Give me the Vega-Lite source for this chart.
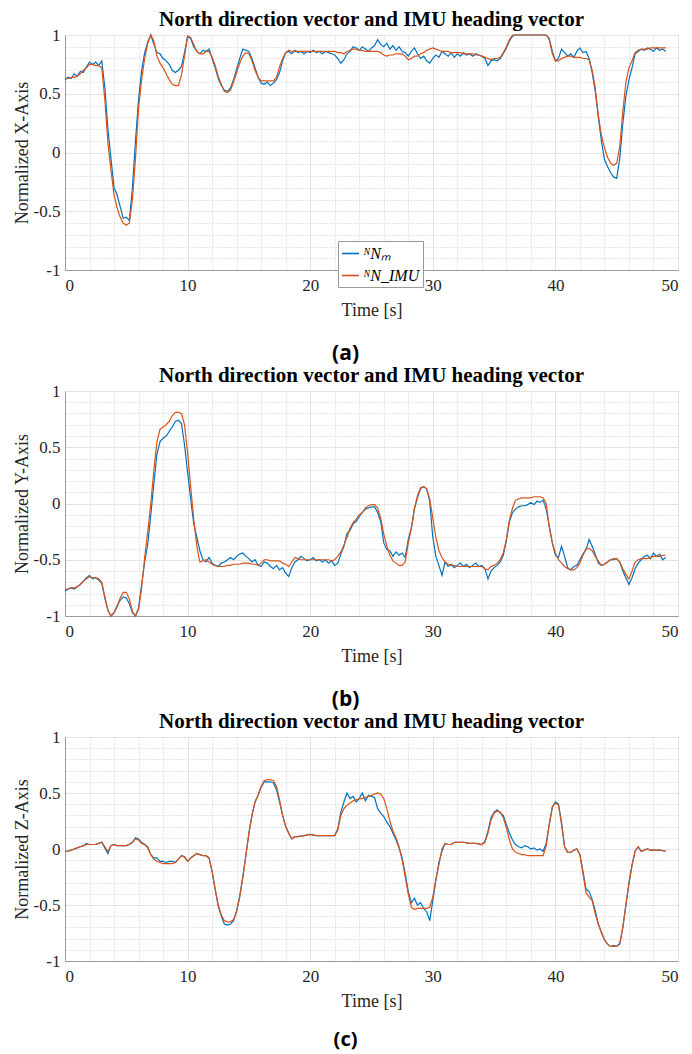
{
"$schema": "https://vega.github.io/schema/vega-lite/v6.json",
"padding": {"left": 12, "top": 8, "right": 0, "bottom": 0},
"spacing": 0,
"config": {
  "view": {"stroke": "#9a9a9a", "strokeWidth": 1},
  "axis": {"labelFont": "Liberation Serif", "labelFontSize": 17, "labelColor": "#262626", "titleFont": "Liberation Serif", "titleFontSize": 18, "titleFontWeight": "normal", "titleColor": "#262626", "domainColor": "#9a9a9a", "gridColor": "#e3e3e3", "ticks": false, "labelPadding": 7},
  "legend": {"labelFont": "Liberation Serif", "labelFontStyle": "italic", "labelFontSize": 16, "labelColor": "#000", "symbolType": "stroke", "symbolStrokeWidth": 1.6, "symbolSize": 289, "strokeColor": "#9a9a9a", "fillColor": "white", "padding": 3, "rowPadding": 4, "labelOffset": 3, "title": null, "orient": "none"},
  "title": {"anchor": "middle"}
},
"datasets": {
"x": [
{"t":0,"m":0.62,"i":0.63},{"t":0.25,"m":0.64,"i":0.63},{"t":0.5,"m":0.63,"i":0.64},{"t":0.75,"m":0.67,"i":0.64},{"t":1,"m":0.65,"i":0.65},{"t":1.25,"m":0.69,"i":0.67},{"t":1.5,"m":0.68,"i":0.7},{"t":1.75,"m":0.73,"i":0.72},{"t":2,"m":0.77,"i":0.75},{"t":2.25,"m":0.75,"i":0.75},{"t":2.5,"m":0.77,"i":0.74},{"t":2.75,"m":0.74,"i":0.74},{"t":3,"m":0.78,"i":0.72},{"t":3.25,"m":0.55,"i":0.45},{"t":3.5,"m":0.2,"i":0.08},{"t":3.75,"m":-0.05,"i":-0.15},{"t":4,"m":-0.3,"i":-0.36},{"t":4.25,"m":-0.36,"i":-0.47},{"t":4.5,"m":-0.46,"i":-0.55},{"t":4.75,"m":-0.56,"i":-0.6},{"t":5,"m":-0.55,"i":-0.62},{"t":5.25,"m":-0.58,"i":-0.6},{"t":5.5,"m":-0.3,"i":-0.4},{"t":5.75,"m":0.1,"i":-0.05},{"t":6,"m":0.45,"i":0.38},{"t":6.25,"m":0.7,"i":0.62},{"t":6.5,"m":0.85,"i":0.8},{"t":6.75,"m":0.94,"i":0.93},{"t":7,"m":1,"i":1},{"t":7.25,"m":0.92,"i":0.95},{"t":7.5,"m":0.85,"i":0.82},{"t":7.75,"m":0.84,"i":0.76},{"t":8,"m":0.8,"i":0.72},{"t":8.25,"m":0.78,"i":0.67},{"t":8.5,"m":0.75,"i":0.62},{"t":8.75,"m":0.7,"i":0.58},{"t":9,"m":0.68,"i":0.57},{"t":9.25,"m":0.7,"i":0.57},{"t":9.5,"m":0.73,"i":0.66},{"t":9.75,"m":0.85,"i":0.82},{"t":10,"m":0.99,"i":0.99},{"t":10.25,"m":0.97,"i":0.98},{"t":10.5,"m":0.9,"i":0.92},{"t":10.75,"m":0.86,"i":0.86},{"t":11,"m":0.84,"i":0.84},{"t":11.25,"m":0.87,"i":0.84},{"t":11.5,"m":0.86,"i":0.86},{"t":11.75,"m":0.88,"i":0.86},{"t":12,"m":0.8,"i":0.81},{"t":12.25,"m":0.72,"i":0.74},{"t":12.5,"m":0.63,"i":0.65},{"t":12.75,"m":0.57,"i":0.58},{"t":13,"m":0.53,"i":0.52},{"t":13.25,"m":0.52,"i":0.51},{"t":13.5,"m":0.55,"i":0.53},{"t":13.75,"m":0.62,"i":0.6},{"t":14,"m":0.71,"i":0.68},{"t":14.25,"m":0.8,"i":0.76},{"t":14.5,"m":0.88,"i":0.82},{"t":14.75,"m":0.87,"i":0.85},{"t":15,"m":0.86,"i":0.84},{"t":15.25,"m":0.8,"i":0.78},{"t":15.5,"m":0.72,"i":0.7},{"t":15.75,"m":0.64,"i":0.64},{"t":16,"m":0.59,"i":0.61},{"t":16.25,"m":0.58,"i":0.61},{"t":16.5,"m":0.6,"i":0.61},{"t":16.75,"m":0.57,"i":0.61},{"t":17,"m":0.59,"i":0.61},{"t":17.25,"m":0.62,"i":0.64},{"t":17.5,"m":0.68,"i":0.73},{"t":17.75,"m":0.78,"i":0.8},{"t":18,"m":0.85,"i":0.85},{"t":18.25,"m":0.86,"i":0.87},{"t":18.5,"m":0.84,"i":0.86},{"t":18.75,"m":0.87,"i":0.86},{"t":19,"m":0.85,"i":0.86},{"t":19.25,"m":0.86,"i":0.86},{"t":19.5,"m":0.84,"i":0.86},{"t":19.75,"m":0.86,"i":0.86},{"t":20,"m":0.85,"i":0.86},{"t":20.25,"m":0.87,"i":0.86},{"t":20.5,"m":0.85,"i":0.86},{"t":20.75,"m":0.86,"i":0.86},{"t":21,"m":0.84,"i":0.86},{"t":21.25,"m":0.86,"i":0.86},{"t":21.5,"m":0.85,"i":0.86},{"t":21.75,"m":0.84,"i":0.86},{"t":22,"m":0.83,"i":0.86},{"t":22.25,"m":0.8,"i":0.85},{"t":22.5,"m":0.76,"i":0.85},{"t":22.75,"m":0.79,"i":0.84},{"t":23,"m":0.84,"i":0.86},{"t":23.25,"m":0.86,"i":0.87},{"t":23.5,"m":0.9,"i":0.88},{"t":23.75,"m":0.89,"i":0.88},{"t":24,"m":0.87,"i":0.87},{"t":24.25,"m":0.9,"i":0.87},{"t":24.5,"m":0.88,"i":0.86},{"t":24.75,"m":0.86,"i":0.86},{"t":25,"m":0.89,"i":0.86},{"t":25.25,"m":0.91,"i":0.86},{"t":25.5,"m":0.96,"i":0.86},{"t":25.75,"m":0.92,"i":0.85},{"t":26,"m":0.9,"i":0.83},{"t":26.25,"m":0.93,"i":0.82},{"t":26.5,"m":0.88,"i":0.83},{"t":26.75,"m":0.91,"i":0.83},{"t":27,"m":0.87,"i":0.84},{"t":27.25,"m":0.9,"i":0.84},{"t":27.5,"m":0.86,"i":0.84},{"t":27.75,"m":0.85,"i":0.82},{"t":28,"m":0.82,"i":0.79},{"t":28.25,"m":0.86,"i":0.8},{"t":28.5,"m":0.89,"i":0.82},{"t":28.75,"m":0.84,"i":0.82},{"t":29,"m":0.8,"i":0.84},{"t":29.25,"m":0.82,"i":0.85},{"t":29.5,"m":0.78,"i":0.87},{"t":29.75,"m":0.76,"i":0.88},{"t":30,"m":0.8,"i":0.89},{"t":30.25,"m":0.83,"i":0.88},{"t":30.5,"m":0.81,"i":0.87},{"t":30.75,"m":0.86,"i":0.86},{"t":31,"m":0.84,"i":0.86},{"t":31.25,"m":0.82,"i":0.86},{"t":31.5,"m":0.85,"i":0.85},{"t":31.75,"m":0.81,"i":0.85},{"t":32,"m":0.84,"i":0.85},{"t":32.25,"m":0.82,"i":0.85},{"t":32.5,"m":0.85,"i":0.84},{"t":32.75,"m":0.83,"i":0.84},{"t":33,"m":0.84,"i":0.84},{"t":33.25,"m":0.82,"i":0.84},{"t":33.5,"m":0.84,"i":0.83},{"t":33.75,"m":0.83,"i":0.83},{"t":34,"m":0.82,"i":0.82},{"t":34.25,"m":0.8,"i":0.81},{"t":34.5,"m":0.74,"i":0.8},{"t":34.75,"m":0.78,"i":0.79},{"t":35,"m":0.79,"i":0.8},{"t":35.25,"m":0.78,"i":0.8},{"t":35.5,"m":0.8,"i":0.81},{"t":35.75,"m":0.84,"i":0.85},{"t":36,"m":0.89,"i":0.9},{"t":36.25,"m":0.95,"i":0.96},{"t":36.5,"m":0.99,"i":1},{"t":36.75,"m":1,"i":1},{"t":37,"m":1,"i":1},{"t":37.5,"m":1,"i":1},{"t":38,"m":1,"i":1},{"t":38.5,"m":1,"i":1},{"t":39,"m":1,"i":1},{"t":39.25,"m":1,"i":1},{"t":39.5,"m":0.97,"i":0.96},{"t":39.75,"m":0.86,"i":0.84},{"t":40,"m":0.78,"i":0.78},{"t":40.25,"m":0.8,"i":0.78},{"t":40.5,"m":0.88,"i":0.8},{"t":40.75,"m":0.85,"i":0.81},{"t":41,"m":0.82,"i":0.82},{"t":41.25,"m":0.84,"i":0.82},{"t":41.5,"m":0.81,"i":0.81},{"t":41.75,"m":0.86,"i":0.81},{"t":42,"m":0.89,"i":0.81},{"t":42.25,"m":0.85,"i":0.8},{"t":42.5,"m":0.86,"i":0.8},{"t":42.75,"m":0.8,"i":0.79},{"t":43,"m":0.68,"i":0.7},{"t":43.25,"m":0.52,"i":0.55},{"t":43.5,"m":0.3,"i":0.32},{"t":43.75,"m":0.1,"i":0.15},{"t":44,"m":-0.06,"i":0.04},{"t":44.25,"m":-0.12,"i":-0.04},{"t":44.5,"m":-0.17,"i":-0.09},{"t":44.75,"m":-0.21,"i":-0.11},{"t":45,"m":-0.22,"i":-0.09},{"t":45.25,"m":-0.05,"i":0.05},{"t":45.5,"m":0.25,"i":0.35},{"t":45.75,"m":0.48,"i":0.6},{"t":46,"m":0.62,"i":0.72},{"t":46.25,"m":0.72,"i":0.78},{"t":46.5,"m":0.84,"i":0.85},{"t":46.75,"m":0.86,"i":0.87},{"t":47,"m":0.88,"i":0.88},{"t":47.25,"m":0.87,"i":0.88},{"t":47.5,"m":0.89,"i":0.88},{"t":47.75,"m":0.88,"i":0.89},{"t":48,"m":0.86,"i":0.89},{"t":48.25,"m":0.89,"i":0.89},{"t":48.5,"m":0.87,"i":0.89},{"t":48.75,"m":0.88,"i":0.89},{"t":49,"m":0.86,"i":0.89}
],
"y": [
{"t":0,"m":-0.78,"i":-0.76},{"t":0.25,"m":-0.76,"i":-0.76},{"t":0.5,"m":-0.75,"i":-0.75},{"t":0.75,"m":-0.76,"i":-0.75},{"t":1,"m":-0.74,"i":-0.74},{"t":1.25,"m":-0.72,"i":-0.72},{"t":1.5,"m":-0.69,"i":-0.69},{"t":1.75,"m":-0.66,"i":-0.67},{"t":2,"m":-0.64,"i":-0.65},{"t":2.25,"m":-0.67,"i":-0.66},{"t":2.5,"m":-0.66,"i":-0.66},{"t":2.75,"m":-0.68,"i":-0.67},{"t":3,"m":-0.71,"i":-0.7},{"t":3.25,"m":-0.84,"i":-0.83},{"t":3.5,"m":-0.95,"i":-0.95},{"t":3.75,"m":-1,"i":-1},{"t":4,"m":-0.97,"i":-0.97},{"t":4.25,"m":-0.91,"i":-0.92},{"t":4.5,"m":-0.86,"i":-0.84},{"t":4.75,"m":-0.83,"i":-0.79},{"t":5,"m":-0.84,"i":-0.79},{"t":5.25,"m":-0.89,"i":-0.85},{"t":5.5,"m":-0.97,"i":-0.96},{"t":5.75,"m":-1,"i":-1},{"t":6,"m":-0.93,"i":-0.94},{"t":6.25,"m":-0.72,"i":-0.75},{"t":6.5,"m":-0.52,"i":-0.48},{"t":6.75,"m":-0.36,"i":-0.25},{"t":7,"m":-0.1,"i":0},{"t":7.25,"m":0.18,"i":0.3},{"t":7.5,"m":0.44,"i":0.55},{"t":7.75,"m":0.55,"i":0.66},{"t":8,"m":0.58,"i":0.68},{"t":8.25,"m":0.6,"i":0.7},{"t":8.5,"m":0.64,"i":0.73},{"t":8.75,"m":0.68,"i":0.78},{"t":9,"m":0.73,"i":0.81},{"t":9.25,"m":0.74,"i":0.81},{"t":9.5,"m":0.71,"i":0.8},{"t":9.75,"m":0.52,"i":0.7},{"t":10,"m":0.28,"i":0.45},{"t":10.25,"m":0.04,"i":0.15},{"t":10.5,"m":-0.18,"i":-0.14},{"t":10.75,"m":-0.3,"i":-0.38},{"t":11,"m":-0.42,"i":-0.52},{"t":11.25,"m":-0.5,"i":-0.51},{"t":11.5,"m":-0.52,"i":-0.5},{"t":11.75,"m":-0.48,"i":-0.52},{"t":12,"m":-0.53,"i":-0.54},{"t":12.25,"m":-0.55,"i":-0.55},{"t":12.5,"m":-0.56,"i":-0.56},{"t":12.75,"m":-0.53,"i":-0.56},{"t":13,"m":-0.52,"i":-0.56},{"t":13.25,"m":-0.5,"i":-0.55},{"t":13.5,"m":-0.48,"i":-0.55},{"t":13.75,"m":-0.5,"i":-0.54},{"t":14,"m":-0.47,"i":-0.54},{"t":14.25,"m":-0.45,"i":-0.54},{"t":14.5,"m":-0.44,"i":-0.53},{"t":14.75,"m":-0.47,"i":-0.53},{"t":15,"m":-0.49,"i":-0.53},{"t":15.25,"m":-0.52,"i":-0.54},{"t":15.5,"m":-0.5,"i":-0.54},{"t":15.75,"m":-0.55,"i":-0.55},{"t":16,"m":-0.56,"i":-0.53},{"t":16.25,"m":-0.52,"i":-0.5},{"t":16.5,"m":-0.53,"i":-0.5},{"t":16.75,"m":-0.56,"i":-0.51},{"t":17,"m":-0.58,"i":-0.51},{"t":17.25,"m":-0.55,"i":-0.51},{"t":17.5,"m":-0.59,"i":-0.51},{"t":17.75,"m":-0.57,"i":-0.53},{"t":18,"m":-0.62,"i":-0.54},{"t":18.25,"m":-0.65,"i":-0.56},{"t":18.5,"m":-0.57,"i":-0.52},{"t":18.75,"m":-0.52,"i":-0.48},{"t":19,"m":-0.5,"i":-0.49},{"t":19.25,"m":-0.47,"i":-0.5},{"t":19.5,"m":-0.49,"i":-0.5},{"t":19.75,"m":-0.51,"i":-0.5},{"t":20,"m":-0.5,"i":-0.5},{"t":20.25,"m":-0.48,"i":-0.5},{"t":20.5,"m":-0.51,"i":-0.5},{"t":20.75,"m":-0.5,"i":-0.5},{"t":21,"m":-0.52,"i":-0.5},{"t":21.25,"m":-0.5,"i":-0.5},{"t":21.5,"m":-0.53,"i":-0.5},{"t":21.75,"m":-0.51,"i":-0.51},{"t":22,"m":-0.55,"i":-0.5},{"t":22.25,"m":-0.53,"i":-0.47},{"t":22.5,"m":-0.45,"i":-0.43},{"t":22.75,"m":-0.38,"i":-0.37},{"t":23,"m":-0.27,"i":-0.3},{"t":23.25,"m":-0.24,"i":-0.22},{"t":23.5,"m":-0.18,"i":-0.17},{"t":23.75,"m":-0.16,"i":-0.14},{"t":24,"m":-0.12,"i":-0.1},{"t":24.25,"m":-0.08,"i":-0.08},{"t":24.5,"m":-0.05,"i":-0.04},{"t":24.75,"m":-0.04,"i":-0.02},{"t":25,"m":-0.03,"i":-0.01},{"t":25.25,"m":-0.03,"i":-0.01},{"t":25.5,"m":-0.08,"i":-0.04},{"t":25.75,"m":-0.16,"i":-0.13},{"t":26,"m":-0.35,"i":-0.27},{"t":26.25,"m":-0.41,"i":-0.38},{"t":26.5,"m":-0.42,"i":-0.46},{"t":26.75,"m":-0.47,"i":-0.51},{"t":27,"m":-0.43,"i":-0.53},{"t":27.25,"m":-0.46,"i":-0.55},{"t":27.5,"m":-0.44,"i":-0.55},{"t":27.75,"m":-0.48,"i":-0.52},{"t":28,"m":-0.32,"i":-0.35},{"t":28.25,"m":-0.22,"i":-0.22},{"t":28.5,"m":-0.05,"i":-0.04},{"t":28.75,"m":0.05,"i":0.07},{"t":29,"m":0.13,"i":0.14},{"t":29.25,"m":0.15,"i":0.15},{"t":29.5,"m":0.13,"i":0.13},{"t":29.75,"m":0.02,"i":0.04},{"t":30,"m":-0.3,"i":-0.13},{"t":30.25,"m":-0.47,"i":-0.3},{"t":30.5,"m":-0.55,"i":-0.42},{"t":30.75,"m":-0.64,"i":-0.48},{"t":31,"m":-0.52,"i":-0.52},{"t":31.25,"m":-0.56,"i":-0.54},{"t":31.5,"m":-0.54,"i":-0.55},{"t":31.75,"m":-0.57,"i":-0.55},{"t":32,"m":-0.55,"i":-0.56},{"t":32.25,"m":-0.53,"i":-0.56},{"t":32.5,"m":-0.56,"i":-0.56},{"t":32.75,"m":-0.54,"i":-0.56},{"t":33,"m":-0.57,"i":-0.56},{"t":33.25,"m":-0.55,"i":-0.56},{"t":33.5,"m":-0.53,"i":-0.56},{"t":33.75,"m":-0.56,"i":-0.56},{"t":34,"m":-0.55,"i":-0.56},{"t":34.25,"m":-0.58,"i":-0.58},{"t":34.5,"m":-0.67,"i":-0.59},{"t":34.75,"m":-0.6,"i":-0.56},{"t":35,"m":-0.57,"i":-0.55},{"t":35.25,"m":-0.55,"i":-0.53},{"t":35.5,"m":-0.52,"i":-0.5},{"t":35.75,"m":-0.46,"i":-0.44},{"t":36,"m":-0.33,"i":-0.32},{"t":36.25,"m":-0.16,"i":-0.15},{"t":36.5,"m":-0.08,"i":-0.04},{"t":36.75,"m":-0.05,"i":0.03},{"t":37,"m":-0.03,"i":0.04},{"t":37.25,"m":-0.02,"i":0.05},{"t":37.5,"m":-0.02,"i":0.05},{"t":37.75,"m":-0.01,"i":0.05},{"t":38,"m":0.01,"i":0.05},{"t":38.25,"m":-0.01,"i":0.06},{"t":38.5,"m":0.02,"i":0.06},{"t":38.75,"m":0.01,"i":0.06},{"t":39,"m":0.03,"i":0.05},{"t":39.25,"m":-0.05,"i":0},{"t":39.5,"m":-0.2,"i":-0.21},{"t":39.75,"m":-0.35,"i":-0.35},{"t":40,"m":-0.46,"i":-0.44},{"t":40.25,"m":-0.48,"i":-0.5},{"t":40.5,"m":-0.38,"i":-0.53},{"t":40.75,"m":-0.47,"i":-0.56},{"t":41,"m":-0.57,"i":-0.58},{"t":41.25,"m":-0.59,"i":-0.59},{"t":41.5,"m":-0.56,"i":-0.59},{"t":41.75,"m":-0.55,"i":-0.57},{"t":42,"m":-0.5,"i":-0.53},{"t":42.25,"m":-0.45,"i":-0.46},{"t":42.5,"m":-0.41,"i":-0.4},{"t":42.75,"m":-0.32,"i":-0.4},{"t":43,"m":-0.38,"i":-0.42},{"t":43.25,"m":-0.45,"i":-0.47},{"t":43.5,"m":-0.53,"i":-0.51},{"t":43.75,"m":-0.55,"i":-0.55},{"t":44,"m":-0.54,"i":-0.54},{"t":44.25,"m":-0.52,"i":-0.52},{"t":44.5,"m":-0.5,"i":-0.5},{"t":44.75,"m":-0.5,"i":-0.49},{"t":45,"m":-0.49,"i":-0.49},{"t":45.25,"m":-0.52,"i":-0.52},{"t":45.5,"m":-0.6,"i":-0.58},{"t":45.75,"m":-0.66,"i":-0.63},{"t":46,"m":-0.72,"i":-0.67},{"t":46.25,"m":-0.66,"i":-0.6},{"t":46.5,"m":-0.58,"i":-0.52},{"t":46.75,"m":-0.53,"i":-0.5},{"t":47,"m":-0.5,"i":-0.49},{"t":47.25,"m":-0.47,"i":-0.49},{"t":47.5,"m":-0.46,"i":-0.49},{"t":47.75,"m":-0.49,"i":-0.48},{"t":48,"m":-0.44,"i":-0.47},{"t":48.25,"m":-0.47,"i":-0.47},{"t":48.5,"m":-0.45,"i":-0.47},{"t":48.75,"m":-0.5,"i":-0.46},{"t":49,"m":-0.48,"i":-0.46}
],
"z": [
{"t":0,"m":-0.02,"i":-0.02},{"t":0.25,"m":-0.02,"i":-0.02},{"t":0.5,"m":-0.01,"i":-0.01},{"t":0.75,"m":0,"i":0},{"t":1,"m":0.01,"i":0.01},{"t":1.25,"m":0.02,"i":0.02},{"t":1.5,"m":0.03,"i":0.03},{"t":1.75,"m":0.05,"i":0.04},{"t":2,"m":0.04,"i":0.04},{"t":2.25,"m":0.04,"i":0.04},{"t":2.5,"m":0.04,"i":0.04},{"t":2.75,"m":0.05,"i":0.05},{"t":3,"m":0.06,"i":0.06},{"t":3.25,"m":0.01,"i":0.02},{"t":3.5,"m":-0.04,"i":-0.02},{"t":3.75,"m":0.03,"i":0.03},{"t":4,"m":0.04,"i":0.04},{"t":4.25,"m":0.03,"i":0.03},{"t":4.5,"m":0.03,"i":0.03},{"t":4.75,"m":0.03,"i":0.03},{"t":5,"m":0.03,"i":0.03},{"t":5.25,"m":0.04,"i":0.04},{"t":5.5,"m":0.06,"i":0.06},{"t":5.75,"m":0.1,"i":0.09},{"t":6,"m":0.09,"i":0.08},{"t":6.25,"m":0.06,"i":0.05},{"t":6.5,"m":0.04,"i":0.04},{"t":6.75,"m":0.02,"i":0.01},{"t":7,"m":-0.05,"i":-0.05},{"t":7.25,"m":-0.08,"i":-0.09},{"t":7.5,"m":-0.08,"i":-0.11},{"t":7.75,"m":-0.11,"i":-0.12},{"t":8,"m":-0.11,"i":-0.13},{"t":8.25,"m":-0.12,"i":-0.13},{"t":8.5,"m":-0.11,"i":-0.13},{"t":8.75,"m":-0.11,"i":-0.13},{"t":9,"m":-0.12,"i":-0.12},{"t":9.25,"m":-0.09,"i":-0.09},{"t":9.5,"m":-0.06,"i":-0.06},{"t":9.75,"m":-0.07,"i":-0.07},{"t":10,"m":-0.11,"i":-0.11},{"t":10.25,"m":-0.08,"i":-0.08},{"t":10.5,"m":-0.06,"i":-0.06},{"t":10.75,"m":-0.04,"i":-0.04},{"t":11,"m":-0.05,"i":-0.05},{"t":11.25,"m":-0.06,"i":-0.06},{"t":11.5,"m":-0.06,"i":-0.06},{"t":11.75,"m":-0.08,"i":-0.08},{"t":12,"m":-0.2,"i":-0.2},{"t":12.25,"m":-0.36,"i":-0.36},{"t":12.5,"m":-0.51,"i":-0.5},{"t":12.75,"m":-0.6,"i":-0.59},{"t":13,"m":-0.67,"i":-0.64},{"t":13.25,"m":-0.68,"i":-0.65},{"t":13.5,"m":-0.67,"i":-0.65},{"t":13.75,"m":-0.64,"i":-0.63},{"t":14,"m":-0.55,"i":-0.56},{"t":14.25,"m":-0.42,"i":-0.43},{"t":14.5,"m":-0.25,"i":-0.26},{"t":14.75,"m":-0.06,"i":-0.06},{"t":15,"m":0.14,"i":0.14},{"t":15.25,"m":0.3,"i":0.3},{"t":15.5,"m":0.42,"i":0.42},{"t":15.75,"m":0.48,"i":0.48},{"t":16,"m":0.55,"i":0.56},{"t":16.25,"m":0.6,"i":0.61},{"t":16.5,"m":0.6,"i":0.62},{"t":16.75,"m":0.6,"i":0.62},{"t":17,"m":0.59,"i":0.61},{"t":17.25,"m":0.53,"i":0.56},{"t":17.5,"m":0.42,"i":0.44},{"t":17.75,"m":0.3,"i":0.3},{"t":18,"m":0.2,"i":0.2},{"t":18.25,"m":0.14,"i":0.14},{"t":18.5,"m":0.09,"i":0.09},{"t":18.75,"m":0.11,"i":0.11},{"t":19,"m":0.11,"i":0.11},{"t":19.5,"m":0.12,"i":0.12},{"t":20,"m":0.13,"i":0.13},{"t":20.5,"m":0.12,"i":0.12},{"t":21,"m":0.12,"i":0.12},{"t":21.5,"m":0.12,"i":0.12},{"t":22,"m":0.12,"i":0.12},{"t":22.25,"m":0.18,"i":0.17},{"t":22.5,"m":0.33,"i":0.3},{"t":22.75,"m":0.42,"i":0.36},{"t":23,"m":0.5,"i":0.39},{"t":23.25,"m":0.45,"i":0.41},{"t":23.5,"m":0.47,"i":0.43},{"t":23.75,"m":0.42,"i":0.44},{"t":24,"m":0.45,"i":0.45},{"t":24.25,"m":0.5,"i":0.45},{"t":24.5,"m":0.43,"i":0.46},{"t":24.75,"m":0.48,"i":0.47},{"t":25,"m":0.47,"i":0.48},{"t":25.25,"m":0.46,"i":0.49},{"t":25.5,"m":0.36,"i":0.5},{"t":25.75,"m":0.32,"i":0.49},{"t":26,"m":0.29,"i":0.45},{"t":26.25,"m":0.24,"i":0.36},{"t":26.5,"m":0.2,"i":0.25},{"t":26.75,"m":0.14,"i":0.16},{"t":27,"m":0.08,"i":0.1},{"t":27.25,"m":0.01,"i":0.02},{"t":27.5,"m":-0.08,"i":-0.1},{"t":27.75,"m":-0.22,"i":-0.25},{"t":28,"m":-0.38,"i":-0.4},{"t":28.25,"m":-0.48,"i":-0.52},{"t":28.5,"m":-0.44,"i":-0.54},{"t":28.75,"m":-0.5,"i":-0.53},{"t":29,"m":-0.48,"i":-0.53},{"t":29.25,"m":-0.53,"i":-0.53},{"t":29.5,"m":-0.56,"i":-0.53},{"t":29.75,"m":-0.64,"i":-0.52},{"t":30,"m":-0.46,"i":-0.43},{"t":30.25,"m":-0.28,"i":-0.27},{"t":30.5,"m":-0.12,"i":-0.14},{"t":30.75,"m":-0.02,"i":0},{"t":31,"m":0.05,"i":0.05},{"t":31.25,"m":0.04,"i":0.04},{"t":31.5,"m":0.04,"i":0.04},{"t":31.75,"m":0.06,"i":0.06},{"t":32,"m":0.06,"i":0.06},{"t":32.5,"m":0.06,"i":0.06},{"t":33,"m":0.05,"i":0.05},{"t":33.5,"m":0.05,"i":0.05},{"t":34,"m":0.04,"i":0.04},{"t":34.25,"m":0.07,"i":0.06},{"t":34.5,"m":0.16,"i":0.14},{"t":34.75,"m":0.28,"i":0.26},{"t":35,"m":0.33,"i":0.32},{"t":35.25,"m":0.35,"i":0.34},{"t":35.5,"m":0.32,"i":0.33},{"t":35.75,"m":0.3,"i":0.28},{"t":36,"m":0.22,"i":0.19},{"t":36.25,"m":0.14,"i":0.08},{"t":36.5,"m":0.08,"i":0},{"t":36.75,"m":0.04,"i":-0.03},{"t":37,"m":0.02,"i":-0.04},{"t":37.25,"m":0.01,"i":-0.05},{"t":37.5,"m":0.03,"i":-0.05},{"t":37.75,"m":0.02,"i":-0.06},{"t":38,"m":0,"i":-0.06},{"t":38.25,"m":0.01,"i":-0.06},{"t":38.5,"m":-0.01,"i":-0.06},{"t":38.75,"m":0,"i":-0.06},{"t":39,"m":-0.02,"i":-0.06},{"t":39.25,"m":0.05,"i":0.03},{"t":39.5,"m":0.22,"i":0.22},{"t":39.75,"m":0.37,"i":0.38},{"t":40,"m":0.42,"i":0.41},{"t":40.25,"m":0.4,"i":0.39},{"t":40.5,"m":0.24,"i":0.22},{"t":40.75,"m":0.02,"i":0.02},{"t":41,"m":-0.03,"i":-0.03},{"t":41.25,"m":-0.03,"i":-0.03},{"t":41.5,"m":-0.01,"i":-0.01},{"t":41.75,"m":0,"i":0},{"t":42,"m":-0.05,"i":-0.05},{"t":42.25,"m":-0.2,"i":-0.22},{"t":42.5,"m":-0.36,"i":-0.39},{"t":42.75,"m":-0.38,"i":-0.43},{"t":43,"m":-0.45,"i":-0.46},{"t":43.25,"m":-0.55,"i":-0.58},{"t":43.5,"m":-0.67,"i":-0.67},{"t":43.75,"m":-0.74,"i":-0.75},{"t":44,"m":-0.81,"i":-0.81},{"t":44.25,"m":-0.85,"i":-0.85},{"t":44.5,"m":-0.87,"i":-0.87},{"t":44.75,"m":-0.86,"i":-0.87},{"t":45,"m":-0.87,"i":-0.87},{"t":45.25,"m":-0.85,"i":-0.84},{"t":45.5,"m":-0.7,"i":-0.7},{"t":45.75,"m":-0.5,"i":-0.5},{"t":46,"m":-0.3,"i":-0.31},{"t":46.25,"m":-0.14,"i":-0.15},{"t":46.5,"m":-0.02,"i":-0.02},{"t":46.75,"m":0.02,"i":0.02},{"t":47,"m":-0.02,"i":-0.02},{"t":47.25,"m":-0.01,"i":-0.01},{"t":47.5,"m":0,"i":0},{"t":47.75,"m":-0.01,"i":-0.01},{"t":48,"m":-0.01,"i":-0.01},{"t":48.5,"m":-0.01,"i":-0.01},{"t":49,"m":-0.02,"i":-0.02}
]
},
"vconcat": [
{
  "title": {"text": "(a)", "orient": "bottom", "font": "Open Sans", "fontSize": 21, "fontWeight": "bold", "color": "#000", "offset": 23},
  "vconcat": [{
    "width": 613, "height": 235,
    "title": {"text": "North direction vector and IMU heading vector", "font": "Liberation Serif", "fontSize": 21, "fontWeight": "bold", "color": "#000", "offset": -4},
    "data": {"name": "x"},
    "transform": [{"fold": ["m", "i"], "as": ["series", "value"]}],
    "layer": [
      {"mark": {"type": "line", "strokeOpacity": 0}, "encoding": {
        "x": {"field": "t", "type": "quantitative", "scale": {"domain": [0, 50], "nice": false}, "axis": {"orient": "bottom", "values": [2,4,6,8,12,14,16,18,22,24,26,28,32,34,36,38,42,44,46,48], "grid": true, "gridDash": [1, 2], "gridColor": "#cfcfcf", "labels": false, "ticks": false, "domain": false, "title": null}},
        "y": {"field": "value", "type": "quantitative", "scale": {"domain": [-1, 1], "nice": false}, "axis": {"orient": "left", "values": [-0.9,-0.8,-0.7,-0.6,-0.4,-0.3,-0.2,-0.1,0.1,0.2,0.3,0.4,0.6,0.7,0.8,0.9], "grid": true, "gridDash": [1, 2], "gridColor": "#cfcfcf", "labels": false, "ticks": false, "domain": false, "title": null}}
      }},
      {"mark": {"type": "line", "strokeWidth": 1.2}, "encoding": {
        "x": {"field": "t", "type": "quantitative", "scale": {"domain": [0, 50], "nice": false}, "axis": {"orient": "bottom", "values": [0,10,20,30,40,50], "grid": true, "title": "Time [s]", "titlePadding": 8, "labelFont": "Liberation Serif", "labelFontSize": 17, "labelColor": "#262626", "labelPadding": 7, "titleFont": "Liberation Serif", "titleFontSize": 18, "titleFontWeight": "normal", "titleColor": "#262626"}},
        "y": {"field": "value", "type": "quantitative", "scale": {"domain": [-1, 1], "nice": false}, "axis": {"orient": "left", "values": [-1,-0.5,0,0.5,1], "grid": true, "title": "Normalized X-Axis", "titlePadding": 2, "labelExpr": "'' + datum.value", "labelFont": "Liberation Serif", "labelFontSize": 17, "labelColor": "#262626", "labelPadding": 5, "titleFont": "Liberation Serif", "titleFontSize": 18, "titleFontWeight": "normal", "titleColor": "#262626"}},
        "color": {"field": "series", "type": "nominal", "scale": {"domain": ["m", "i"], "range": ["#0072BD", "#D95319"]}, "legend": {"legendX": 273, "legendY": 206, "labelExpr": "datum.label == 'm' ? 'ᴺNₘ' : 'ᴺN_IMU'"}}
      }}
    ],
    "resolve": {"axis": {"x": "independent", "y": "independent"}}
  }]
},
{
  "title": {"text": "(b)", "orient": "bottom", "font": "Open Sans", "fontSize": 21, "fontWeight": "bold", "color": "#000", "offset": 23},
  "vconcat": [{
    "width": 613, "height": 225,
    "title": {"text": "North direction vector and IMU heading vector", "font": "Liberation Serif", "fontSize": 21, "fontWeight": "bold", "color": "#000", "offset": -4},
    "data": {"name": "y"},
    "transform": [{"fold": ["m", "i"], "as": ["series", "value"]}],
    "layer": [
      {"mark": {"type": "line", "strokeOpacity": 0}, "encoding": {
        "x": {"field": "t", "type": "quantitative", "scale": {"domain": [0, 50], "nice": false}, "axis": {"orient": "bottom", "values": [2,4,6,8,12,14,16,18,22,24,26,28,32,34,36,38,42,44,46,48], "grid": true, "gridDash": [1, 2], "gridColor": "#cfcfcf", "labels": false, "ticks": false, "domain": false, "title": null}},
        "y": {"field": "value", "type": "quantitative", "scale": {"domain": [-1, 1], "nice": false}, "axis": {"orient": "left", "values": [-0.9,-0.8,-0.7,-0.6,-0.4,-0.3,-0.2,-0.1,0.1,0.2,0.3,0.4,0.6,0.7,0.8,0.9], "grid": true, "gridDash": [1, 2], "gridColor": "#cfcfcf", "labels": false, "ticks": false, "domain": false, "title": null}}
      }},
      {"mark": {"type": "line", "strokeWidth": 1.2}, "encoding": {
        "x": {"field": "t", "type": "quantitative", "scale": {"domain": [0, 50], "nice": false}, "axis": {"orient": "bottom", "values": [0,10,20,30,40,50], "grid": true, "title": "Time [s]", "titlePadding": 8, "labelFont": "Liberation Serif", "labelFontSize": 17, "labelColor": "#262626", "labelPadding": 7, "titleFont": "Liberation Serif", "titleFontSize": 18, "titleFontWeight": "normal", "titleColor": "#262626"}},
        "y": {"field": "value", "type": "quantitative", "scale": {"domain": [-1, 1], "nice": false}, "axis": {"orient": "left", "values": [-1,-0.5,0,0.5,1], "grid": true, "title": "Normalized Y-Axis", "titlePadding": 2, "labelExpr": "'' + datum.value", "labelFont": "Liberation Serif", "labelFontSize": 17, "labelColor": "#262626", "labelPadding": 5, "titleFont": "Liberation Serif", "titleFontSize": 18, "titleFontWeight": "normal", "titleColor": "#262626"}},
        "color": {"field": "series", "type": "nominal", "scale": {"domain": ["m", "i"], "range": ["#0072BD", "#D95319"]}, "legend": {"legendX": 273, "legendY": 197, "labelExpr": "datum.label == 'm' ? 'ᴺNₘ' : 'ᴺN_IMU'"}}
      }}
    ],
    "resolve": {"axis": {"x": "independent", "y": "independent"}}
  }]
},
{
  "title": {"text": "(c)", "orient": "bottom", "font": "Open Sans", "fontSize": 20, "fontWeight": "bold", "color": "#000", "offset": 19},
  "vconcat": [{
    "width": 613, "height": 224,
    "title": {"text": "North direction vector and IMU heading vector", "font": "Liberation Serif", "fontSize": 21, "fontWeight": "bold", "color": "#000", "offset": -4},
    "data": {"name": "z"},
    "transform": [{"fold": ["m", "i"], "as": ["series", "value"]}],
    "layer": [
      {"mark": {"type": "line", "strokeOpacity": 0}, "encoding": {
        "x": {"field": "t", "type": "quantitative", "scale": {"domain": [0, 50], "nice": false}, "axis": {"orient": "bottom", "values": [2,4,6,8,12,14,16,18,22,24,26,28,32,34,36,38,42,44,46,48], "grid": true, "gridDash": [1, 2], "gridColor": "#cfcfcf", "labels": false, "ticks": false, "domain": false, "title": null}},
        "y": {"field": "value", "type": "quantitative", "scale": {"domain": [-1, 1], "nice": false}, "axis": {"orient": "left", "values": [-0.9,-0.8,-0.7,-0.6,-0.4,-0.3,-0.2,-0.1,0.1,0.2,0.3,0.4,0.6,0.7,0.8,0.9], "grid": true, "gridDash": [1, 2], "gridColor": "#cfcfcf", "labels": false, "ticks": false, "domain": false, "title": null}}
      }},
      {"mark": {"type": "line", "strokeWidth": 1.2}, "encoding": {
        "x": {"field": "t", "type": "quantitative", "scale": {"domain": [0, 50], "nice": false}, "axis": {"orient": "bottom", "values": [0,10,20,30,40,50], "grid": true, "title": "Time [s]", "titlePadding": 8, "labelFont": "Liberation Serif", "labelFontSize": 17, "labelColor": "#262626", "labelPadding": 7, "titleFont": "Liberation Serif", "titleFontSize": 18, "titleFontWeight": "normal", "titleColor": "#262626"}},
        "y": {"field": "value", "type": "quantitative", "scale": {"domain": [-1, 1], "nice": false}, "axis": {"orient": "left", "values": [-1,-0.5,0,0.5,1], "grid": true, "title": "Normalized Z-Axis", "titlePadding": 2, "labelExpr": "'' + datum.value", "labelFont": "Liberation Serif", "labelFontSize": 17, "labelColor": "#262626", "labelPadding": 5, "titleFont": "Liberation Serif", "titleFontSize": 18, "titleFontWeight": "normal", "titleColor": "#262626"}},
        "color": {"field": "series", "type": "nominal", "scale": {"domain": ["m", "i"], "range": ["#0072BD", "#D95319"]}, "legend": {"legendX": 273, "legendY": 194, "labelExpr": "datum.label == 'm' ? 'ᴺNₘ' : 'ᴺN_IMU'"}}
      }}
    ],
    "resolve": {"axis": {"x": "independent", "y": "independent"}}
  }]
}
]
}
